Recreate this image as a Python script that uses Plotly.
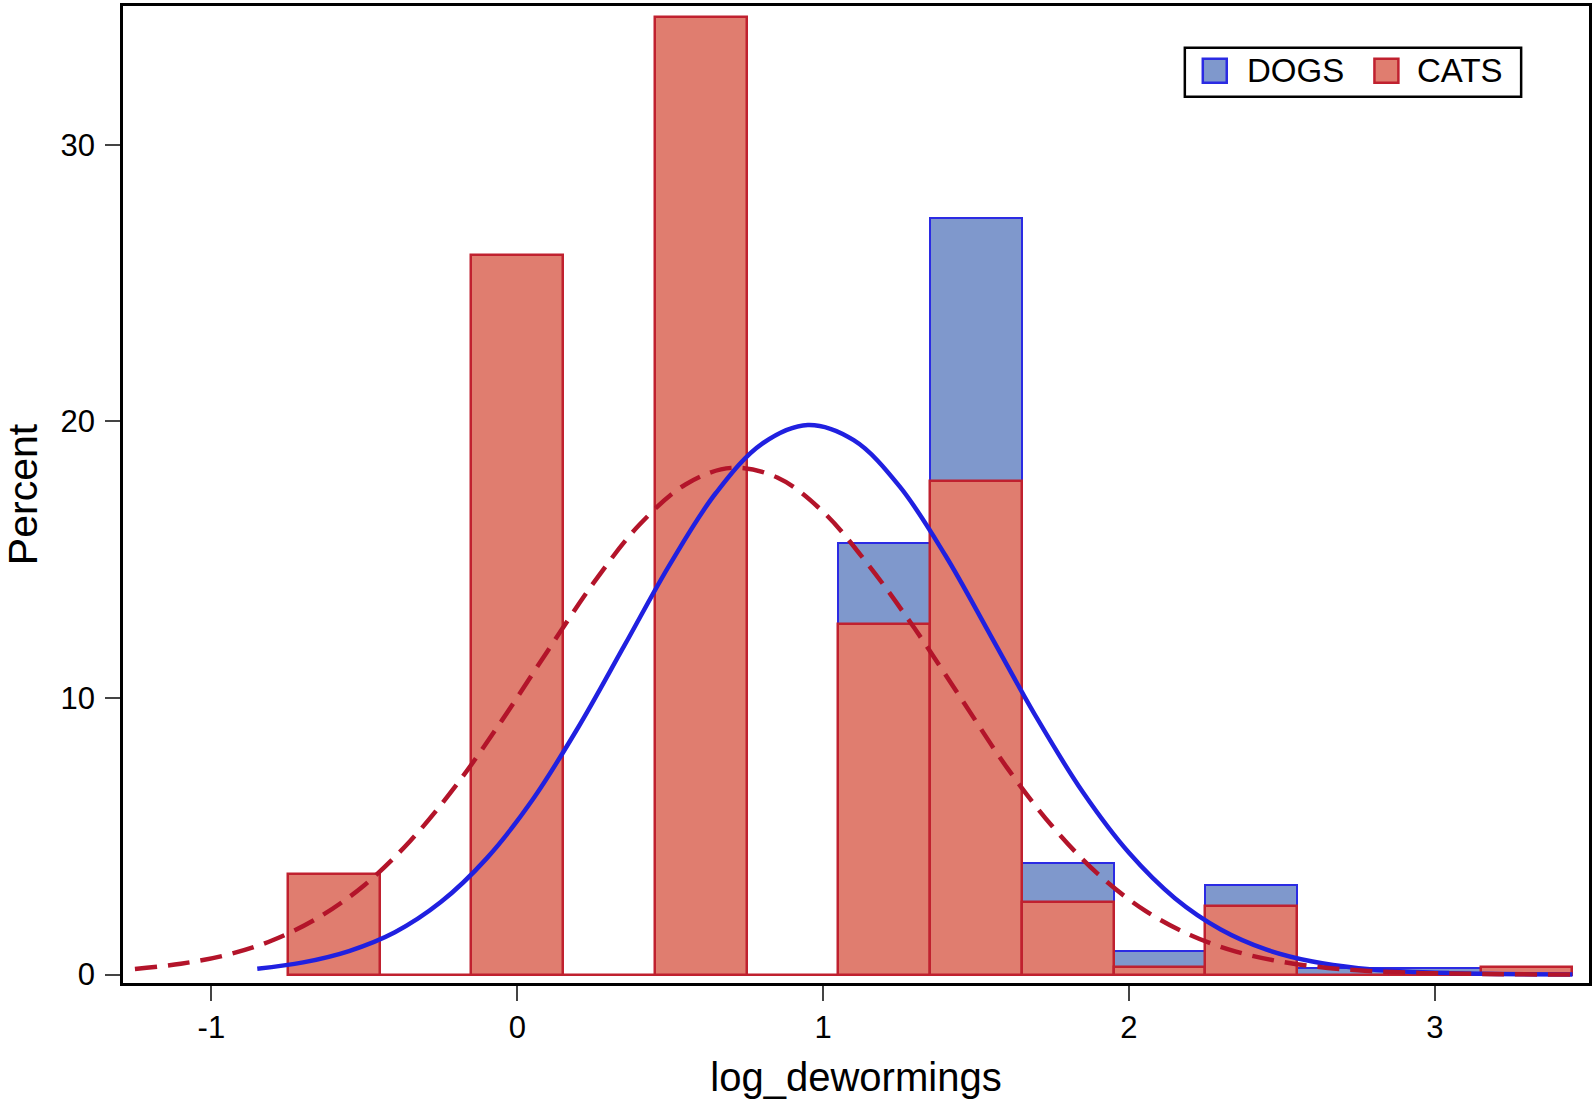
import plotly.graph_objects as go

# histogram bins (midpoints, width 0.3) and percent per bin
bin_mid = [-0.6, -0.3, 0.0, 0.3, 0.6, 0.9, 1.2, 1.5, 1.8, 2.1, 2.4, 2.7, 3.0, 3.3]
dogs_pct = [0.0, 0.0, 18.7, 0.0, 29.75, 0.0, 15.6, 27.34, 4.03, 0.85, 3.23, 0.25, 0.25, 0.0]
cats_pct = [3.65, 0.0, 26.0, 0.0, 34.62, 0.0, 12.66, 17.85, 2.62, 0.28, 2.48, 0.0, 0.0, 0.28]

# fitted normal curves
dogs_curve_x = [-0.85, -0.7, -0.55, -0.4, -0.25, -0.1, 0.05, 0.2, 0.35, 0.5, 0.65, 0.8, 0.95,
                1.1, 1.25, 1.4, 1.55, 1.7, 1.85, 2.0, 2.15, 2.3, 2.45, 2.6, 2.75, 2.9, 3.05,
                3.2, 3.45]
dogs_curve_y = [0.21, 0.44, 0.85, 1.53, 2.62, 4.2, 6.32, 8.95, 11.89, 14.85, 17.42, 19.19, 19.87,
                19.32, 17.65, 15.15, 12.21, 9.25, 6.58, 4.4, 2.76, 1.63, 0.9, 0.47, 0.23, 0.11,
                0.05, 0.02, 0.0]
cats_curve_x = [-1.25, -1.1, -0.95, -0.8, -0.65, -0.5, -0.35, -0.2, -0.05, 0.1, 0.25, 0.4, 0.55,
                0.7, 0.85, 1.0, 1.15, 1.3, 1.45, 1.6, 1.75, 1.9, 2.05, 2.2, 2.35, 2.5, 2.65,
                2.8, 2.95, 3.1, 3.25, 3.45]
cats_curve_y = [0.2, 0.39, 0.71, 1.24, 2.06, 3.23, 4.83, 6.84, 9.19, 11.71, 14.17, 16.27, 17.72,
                18.32, 17.97, 16.73, 14.78, 12.5, 10.0, 7.5, 5.35, 3.62, 2.33, 1.43, 0.83, 0.46,
                0.24, 0.12, 0.06, 0.03, 0.01, 0.0]

x_ticks = [-1, 0, 1, 2, 3]
x_tick_text = ["-1", "0", "1", "2", "3"]
y_ticks = [0, 10, 20, 30]

DOG_FILL = "#7F98CC"
DOG_LINE = "#2B2BE3"
CAT_FILL = "#E07D6F"
CAT_LINE = "#C0212F"
FONT = "Liberation Sans, Arial, sans-serif"

W, H = 1595, 1104
L, R, T, B = 123, 3, 3, 121


def px_x(p):
    return (p - L) / (W - L - R)


def px_y(p):
    return (H - B - p) / (H - T - B)


fig = go.Figure()
fig.add_trace(go.Bar(x=bin_mid, y=dogs_pct, width=0.3, name="DOGS",
                     marker={"color": DOG_FILL, "line": {"color": DOG_LINE, "width": 2}}))
fig.add_trace(go.Bar(x=bin_mid, y=cats_pct, width=0.3, name="CATS",
                     marker={"color": CAT_FILL, "line": {"color": CAT_LINE, "width": 2.5}}))
fig.add_trace(go.Scatter(x=dogs_curve_x, y=dogs_curve_y, mode="lines",
                         line={"color": "#2020E0", "width": 4.5, "shape": "spline"},
                         showlegend=False))
fig.add_trace(go.Scatter(x=cats_curve_x, y=cats_curve_y, mode="lines",
                         line={"color": "#B3142A", "width": 4.5, "shape": "spline",
                               "dash": "22px,11px"},
                         showlegend=False))

# legend drawn as a framed box like the original
shapes = [
    dict(type="rect", xref="paper", yref="paper", x0=px_x(1187), x1=px_x(1524),
         y0=px_y(94), y1=px_y(45), line={"color": "black", "width": 2.5}, fillcolor="white"),
    dict(type="rect", xref="paper", yref="paper", x0=px_x(1205), x1=px_x(1229),
         y0=px_y(80), y1=px_y(56), line={"color": DOG_LINE, "width": 2.5}, fillcolor=DOG_FILL),
    dict(type="rect", xref="paper", yref="paper", x0=px_x(1377), x1=px_x(1401),
         y0=px_y(80), y1=px_y(56), line={"color": CAT_LINE, "width": 2.5}, fillcolor=CAT_FILL),
]
annotations = [
    dict(text="DOGS", xref="paper", yref="paper", x=px_x(1247), y=px_y(68), xanchor="left",
         yanchor="middle", showarrow=False, font={"size": 33, "color": "black", "family": FONT}),
    dict(text="CATS", xref="paper", yref="paper", x=px_x(1418), y=px_y(68), xanchor="left",
         yanchor="middle", showarrow=False, font={"size": 33, "color": "black", "family": FONT}),
]

fig.update_layout(
    width=W, height=H,
    margin={"l": L, "r": R, "t": T, "b": B},
    barmode="overlay",
    bargap=0,
    showlegend=False,
    plot_bgcolor="white",
    paper_bgcolor="white",
    font={"family": FONT, "color": "black", "size": 28},
    shapes=shapes,
    annotations=annotations,
)
fig.update_xaxes(
    range=[-1.289, 3.504], tickvals=x_ticks, ticktext=x_tick_text, ticks="outside",
    ticklen=15, tickwidth=2, tickcolor="#444", showline=True, linecolor="black",
    linewidth=2.5, mirror=True, showgrid=False, zeroline=False,
    tickfont={"size": 31},
    title={"text": "log_dewormings", "font": {"size": 40}, "standoff": 20},
)
fig.update_yaxes(
    range=[-0.306, 35.02], tickvals=y_ticks, ticks="outside", ticklen=15, tickwidth=2,
    tickcolor="#444", showline=True, linecolor="black", linewidth=2.5, mirror=True,
    showgrid=False, zeroline=False, tickfont={"size": 31}, ticklabelstandoff=4,
    title={"text": "Percent", "font": {"size": 41}, "standoff": 20},
)

fig.write_html("out.html", config={"displayModeBar": False},
               post_script="document.body.style.margin='0';")
